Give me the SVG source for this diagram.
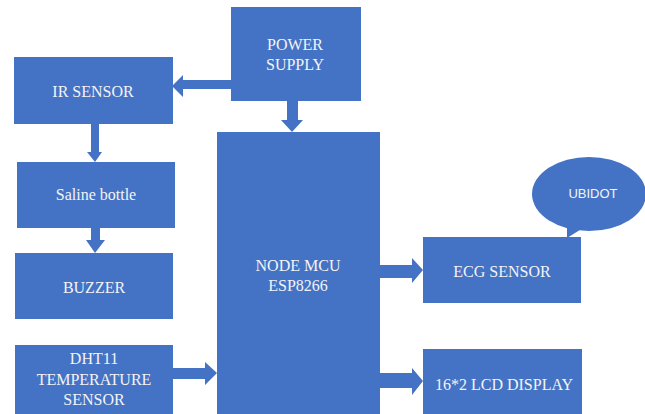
<svg xmlns="http://www.w3.org/2000/svg" width="645" height="414" viewBox="0 0 645 414">
<style>
.box{fill:#4472C4}
.arr{fill:#4472C4}
.t{font-family:"Liberation Serif","Times New Roman",serif;font-size:16px;fill:#F4F4F4;text-anchor:middle}
.s{font-family:"Liberation Sans",Arial,sans-serif;font-size:13px;fill:#F4F4F4;text-anchor:middle}
</style>
<rect width="645" height="414" fill="#ffffff"/>
<g id="connectors">
<polygon class="arr" points="231,80 183,80 183,75 172,86 183,97 183,89 231,89"/>
<polygon class="arr" points="287,101 298,101 298,120 303,120 292,132 281,120 287,120"/>
<polygon class="arr" points="91,124 99,124 99,152 102,152 95,162 87,152 91,152"/>
<polygon class="arr" points="91,228 100,228 100,240 105,240 95,253 86,240 91,240"/>
<polygon class="arr" points="173,368 205,368 205,362 217,373 205,385 205,379 173,379"/>
<polygon class="arr" points="380,265 412,265 412,258 423,270 412,283 412,278 380,278"/>
<polygon class="arr" points="380,373 412,373 412,368 423,381 412,395 412,388 380,388"/>
</g>
<g id="power"><rect class="box" x="231" y="7" width="130" height="94"/><text class="t" x="295" y="50">POWER</text><text class="t" x="295" y="70">SUPPLY</text></g>
<g id="ir"><rect class="box" x="14" y="57" width="159" height="67"/><text class="t" x="93" y="97">IR SENSOR</text></g>
<g id="saline"><rect class="box" x="17" y="162" width="158" height="66"/><text class="t" x="96" y="200">Saline bottle</text></g>
<g id="buzzer"><rect class="box" x="15" y="253" width="158" height="66"/><text class="t" x="94" y="293">BUZZER</text></g>
<g id="dht"><rect class="box" x="15" y="345" width="158" height="69"/><text class="t" x="94" y="364">DHT11</text><text class="t" x="94" y="385">TEMPERATURE</text><text class="t" x="94" y="405">SENSOR</text></g>
<g id="mcu"><rect class="box" x="217" y="132" width="163" height="290"/><text class="t" x="298" y="271">NODE MCU</text><text class="t" x="298" y="291">ESP8266</text></g>
<g id="ecg"><rect class="box" x="423" y="237" width="158" height="66"/><text class="t" x="502" y="277">ECG SENSOR</text></g>
<g id="lcd"><rect class="box" x="423" y="349" width="159" height="70"/><text class="t" x="504" y="390">16*2 LCD DISPLAY</text></g>
<g id="ubidot"><ellipse class="box" cx="589" cy="194" rx="57" ry="37"/><polygon class="box" points="567,225 583,228 567,238"/><text class="s" x="593" y="198">UBIDOT</text></g>
</svg>
